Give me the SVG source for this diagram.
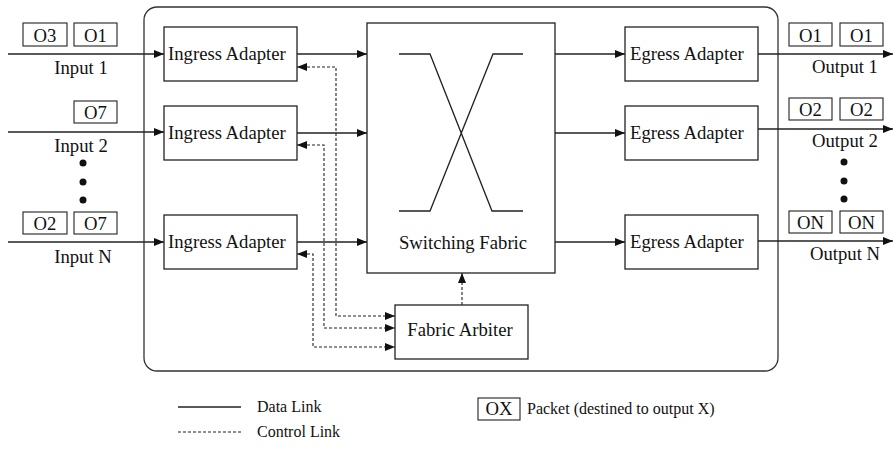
<svg xmlns="http://www.w3.org/2000/svg" width="893" height="453" viewBox="0 0 893 453">
<style>
text{font-family:'Liberation Serif',serif;font-size:18.7px;fill:#111}
.lg{font-size:16px}
.box{fill:#fff;stroke:#222;stroke-width:1.3}
.pk{fill:#fff;stroke:#222;stroke-width:1.1}
.d{fill:none;stroke:#222;stroke-width:1.3}
.c{fill:none;stroke:#222;stroke-width:1.1;stroke-dasharray:3 2}
.m{text-anchor:middle}
</style>
<defs>
<marker id="a" viewBox="0 0 10 8" refX="10" refY="4" markerWidth="12" markerHeight="8" markerUnits="userSpaceOnUse" orient="auto-start-reverse">
<path d="M0,0 L10,4 L0,8 Z" fill="#111"/>
</marker>
</defs>
<rect id="chassis" x="144" y="7" width="634" height="364" rx="13" fill="none" stroke="#333" stroke-width="1.3"/>

<g id="connectors">
<path class="d" d="M8,54 H164" marker-end="url(#a)"/>
<path class="d" d="M8,132 H164" marker-end="url(#a)"/>
<path class="d" d="M8,242 H164" marker-end="url(#a)"/>
<path class="d" d="M297,54 H367" marker-end="url(#a)"/>
<path class="d" d="M297,133 H367" marker-end="url(#a)"/>
<path class="d" d="M297,242 H367" marker-end="url(#a)"/>
<path class="d" d="M555,54 H625" marker-end="url(#a)"/>
<path class="d" d="M555,133 H625" marker-end="url(#a)"/>
<path class="d" d="M555,242 H625" marker-end="url(#a)"/>
<path class="d" d="M758,54 H893" marker-end="url(#a)"/>
<path class="d" d="M758,129 H893" marker-end="url(#a)"/>
<path class="d" d="M758,241 H893" marker-end="url(#a)"/>
<path class="c" d="M297,67 H336 V316 H395" marker-start="url(#a)" marker-end="url(#a)"/>
<path class="c" d="M297,145 H324 V328 H395" marker-start="url(#a)" marker-end="url(#a)"/>
<path class="c" d="M297,254 H313 V347 H395" marker-start="url(#a)" marker-end="url(#a)"/>
<path class="c" d="M462,305 V273" marker-end="url(#a)"/>
</g>

<g id="input1">
<rect class="pk" x="23" y="23" width="44" height="23"/><text class="m" x="45" y="42">O3</text>
<rect class="pk" x="74" y="23" width="43" height="23"/><text class="m" x="95.5" y="42">O1</text>
<text class="m" x="81" y="74">Input 1</text>
</g>
<g id="input2">
<rect class="pk" x="74" y="101" width="43" height="22"/><text class="m" x="95.5" y="119">O7</text>
<text class="m" x="81" y="152">Input 2</text>
</g>
<g id="inputN">
<rect class="pk" x="23" y="212" width="44" height="22"/><text class="m" x="45" y="230">O2</text>
<rect class="pk" x="74" y="212" width="43" height="22"/><text class="m" x="95.5" y="230">O7</text>
<text class="m" x="83" y="263">Input N</text>
</g>
<g id="input-dots" fill="#111">
<circle cx="83" cy="163" r="3.5"/><circle cx="83" cy="182" r="3.5"/><circle cx="83" cy="200" r="3.5"/>
</g>

<g id="ingress1"><rect class="box" x="164" y="27" width="133" height="54"/><text x="168" y="60">Ingress Adapter</text></g>
<g id="ingress2"><rect class="box" x="164" y="106" width="133" height="54"/><text x="168" y="139">Ingress Adapter</text></g>
<g id="ingressN"><rect class="box" x="164" y="215" width="133" height="54"/><text x="168" y="248">Ingress Adapter</text></g>

<g id="fabric">
<rect class="box" x="367" y="23" width="188" height="250"/>
<path class="d" d="M399,54 H430 L492,211 H523 M523,54 H493 L430,211 H399"/>
<text class="m" x="463" y="249">Switching Fabric</text>
</g>

<g id="arbiter"><rect class="box" x="395" y="305" width="133" height="54"/><text class="m" x="460" y="336">Fabric Arbiter</text></g>

<g id="egress1"><rect class="box" x="625" y="27" width="133" height="54"/><text x="630" y="60">Egress Adapter</text></g>
<g id="egress2"><rect class="box" x="625" y="106" width="133" height="54"/><text x="630" y="139">Egress Adapter</text></g>
<g id="egressN"><rect class="box" x="625" y="215" width="133" height="54"/><text x="630" y="248">Egress Adapter</text></g>

<g id="output1">
<rect class="pk" x="789" y="23" width="43" height="23"/><text class="m" x="810.5" y="42">O1</text>
<rect class="pk" x="840" y="23" width="43" height="23"/><text class="m" x="861.5" y="42">O1</text>
<text class="m" x="845" y="73">Output 1</text>
</g>
<g id="output2">
<rect class="pk" x="789" y="98" width="43" height="22"/><text class="m" x="810.5" y="116">O2</text>
<rect class="pk" x="840" y="98" width="43" height="22"/><text class="m" x="861.5" y="116">O2</text>
<text class="m" x="845" y="147">Output 2</text>
</g>
<g id="outputN">
<rect class="pk" x="789" y="211" width="43" height="22"/><text class="m" x="810.5" y="229">ON</text>
<rect class="pk" x="840" y="211" width="43" height="22"/><text class="m" x="861.5" y="229">ON</text>
<text class="m" x="845" y="260">Output N</text>
</g>
<g id="output-dots" fill="#111">
<circle cx="844" cy="162" r="3.5"/><circle cx="844" cy="181" r="3.5"/><circle cx="844" cy="199" r="3.5"/>
</g>

<g id="legend">
<line class="d" x1="178" y1="407" x2="241" y2="407"/>
<text class="lg" x="257" y="412">Data Link</text>
<line class="c" x1="178" y1="432" x2="241" y2="432"/>
<text class="lg" x="257" y="437">Control Link</text>
<rect class="pk" x="478" y="398" width="42" height="22"/><text class="m" x="499" y="415">OX</text>
<text class="lg" x="527" y="414">Packet (destined to output X)</text>
</g>
</svg>
